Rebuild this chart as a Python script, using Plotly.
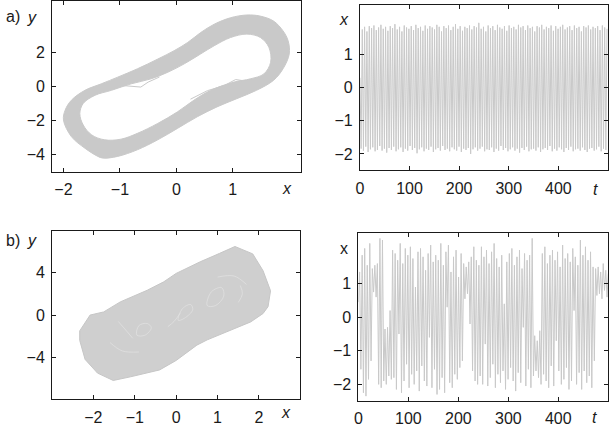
import numpy as np
import plotly.graph_objects as go

# ---- a) phase portrait: inner and outer edge of the band (x, y)
a_outer_x = [-2.00, -1.86, -1.62, -1.39, -1.30, -1.04, -0.69, -0.33, 0.02, 0.37, 0.72, 1.07,
             1.42, 1.72, 1.89, 2.00, 1.98, 1.89, 1.72, 1.48, 1.25, 0.96, 0.67, 0.43, 0.20,
             -0.04, -0.33, -0.69, -1.04, -1.33, -1.62, -1.86, -1.97, -2.00]
a_outer_y = [-1.97, -2.94, -3.62, -4.10, -4.20, -4.10, -3.71, -3.13, -2.46, -1.78, -1.20, -0.72,
             -0.23, 0.35, 1.03, 1.90, 2.67, 3.25, 3.83, 4.12, 4.18, 4.02, 3.64, 3.15, 2.57,
             2.09, 1.60, 1.03, 0.54, 0.15, -0.23, -0.81, -1.39, -1.97]
a_inner_x = [-1.71, -1.65, -1.50, -1.27, -0.98, -0.69, -0.33, 0.02, 0.31, 0.61, 1.02, 1.31,
             1.55, 1.67, 1.64, 1.49, 1.25, 0.96, 0.67, 0.43, 0.14, -0.15, -0.45, -0.80, -1.15,
             -1.44, -1.65, -1.71]
a_inner_y = [-1.59, -2.26, -2.84, -3.13, -3.09, -2.75, -2.17, -1.49, -0.81, -0.23, 0.25, 0.44,
             0.73, 1.41, 2.28, 2.86, 3.06, 2.86, 2.38, 1.90, 1.32, 0.83, 0.44, 0.15, -0.23,
             -0.52, -1.00, -1.59]
# the two small notches on the inside of the band
a_kink1_x = [-0.95, -0.63, -0.50, -0.30]
a_kink1_y = [0.05, -0.04, 0.25, 0.55]
a_kink2_x = [0.25, 0.55, 0.85, 1.05, 1.25]
a_kink2_y = [-0.75, -0.25, 0.05, 0.40, 0.30]

# ---- a) time series: successive maxima and minima of x
a_peaks = [1.76, 1.84, 1.70, 1.86, 1.80, 1.88, 1.74, 1.82, 1.90, 1.78,
           1.84, 1.72, 1.86, 1.80, 1.92, 1.76, 1.84, 1.70, 1.88, 1.82,
           1.78, 1.86, 1.74, 1.90, 1.80, 1.84, 1.72, 1.88, 1.78, 1.86,
           1.82, 1.76, 1.90, 1.84, 1.70, 1.86, 1.80, 1.88, 1.74, 1.84,
           1.92, 1.78, 1.86, 1.72, 1.84, 1.80, 1.88, 1.76, 1.86, 1.82,
           1.96, 1.78, 1.84, 1.70, 1.88, 1.80, 1.86, 1.74, 1.90, 1.82,
           1.78, 1.86, 1.72, 1.88, 1.80, 1.84, 1.76, 1.90, 1.82, 1.86,
           1.74, 1.88, 1.80, 1.84, 1.70, 1.86, 1.82, 1.90, 1.76, 1.84,
           1.80, 1.88, 1.72, 1.86, 1.78, 1.84, 1.90, 1.76, 1.82, 1.86,
           1.74, 1.88, 1.80, 1.84, 1.70, 1.86, 1.82, 1.88, 1.76, 1.84,
           1.80, 1.86, 1.74, 1.88, 1.82, 1.78]
a_troughs = [-1.84, -1.90, -1.78, -1.94, -1.86, -1.80, -1.92, -1.88, -1.76, -1.90,
             -1.84, -1.96, -1.82, -1.88, -1.78, -1.92, -1.86, -1.80, -1.94, -1.84,
             -1.90, -1.76, -1.88, -1.82, -1.98, -1.86, -1.80, -1.92, -1.84, -1.88,
             -1.78, -1.94, -1.86, -1.82, -1.90, -1.76, -1.88, -1.84, -1.92, -1.80,
             -1.86, -1.90, -1.78, -1.94, -1.84, -1.88, -1.82, -2.00, -1.86, -1.80,
             -1.90, -1.84, -1.78, -1.92, -1.86, -1.88, -1.80, -1.94, -1.84, -1.90,
             -1.76, -1.88, -1.82, -1.92, -1.86, -1.80, -1.90, -1.84, -1.96, -1.82,
             -1.88, -1.78, -1.92, -1.86, -1.84, -1.90, -1.80, -1.94, -1.86, -1.82,
             -1.88, -1.76, -1.92, -1.84, -1.90, -1.80, -1.86, -1.94, -1.82, -1.88,
             -1.78, -1.92, -1.86, -1.84, -1.90, -1.80, -1.88, -1.94, -1.84, -1.82,
             -1.90, -1.86, -1.78, -1.92, -1.84, -1.88]
a_t_end = 498

# ---- b) phase portrait: outer envelope of the cloud and the lighter gaps inside it
b_outer_x = [-2.33, -2.20, -1.90, -1.52, -1.10, -0.40, 0.00, 0.50, 0.75, 1.30, 1.80, 2.10,
             2.22, 2.28, 2.10, 1.85, 1.42, 1.05, 0.58, 0.00, -0.30, -0.70, -1.00, -1.35, -1.75,
             -2.08, -2.33, -2.33]
b_outer_y = [-2.40, -4.20, -5.50, -6.20, -5.85, -5.20, -4.30, -2.85, -2.35, -1.45, -0.65, 0.15,
             0.80, 2.30, 4.20, 5.80, 6.50, 5.85, 5.05, 3.95, 3.15, 2.35, 1.85, 1.25, 0.30,
             0.00, -1.50, -2.40]
b_gaps = [
    ([0.05, 0.20, 0.40, 0.35, 0.15, 0.05], [-0.50, -0.30, 0.50, 1.00, 0.60, -0.50]),
    ([-0.20, -0.05, 0.10], [-1.10, -0.60, 0.20]),
    ([-0.95, -0.75, -0.60, -0.70, -0.90, -0.95], [-1.90, -1.90, -1.20, -0.80, -1.00, -1.90]),
    ([0.75, 0.95, 1.15, 1.10, 0.85, 0.75], [0.90, 0.90, 1.80, 2.60, 2.20, 0.90]),
    ([-1.60, -1.30, -0.90], [-2.60, -3.40, -3.50]),
    ([1.00, 1.40, 1.70], [3.60, 3.70, 2.90]),
    ([-1.40, -1.20, -1.05], [-0.60, -1.50, -2.20]),
    ([1.50, 1.60, 1.55], [1.20, 2.00, 2.80]),
]

# ---- b) time series: successive extrema of x
b_extrema = [0.45,
    1.35, -1.55, 1.85, -2.25, 2.05, -2.35, 1.55, -1.85, 2.2, -1.3,
    1.45, 0.75, 1.55, 0.6, 1.6, -2.0, 2.35, -2.1, 2.3,
    -1.9, -0.35, -2.0, -0.3, -1.75, 0.2, -1.85,
    2.0, -1.8, 1.9, -2.15, 1.7, -0.5, 2.2, -2.25, 1.6, -1.9, 2.05, -1.4, 1.85, -2.1,
    2.1, -1.7, 1.75, -2.0, 0.9, -1.6, 1.95, -2.2, 2.05, -1.45, 1.8, -1.9, 1.4, -2.05,
    1.9, -0.6, 2.15, -2.1, 1.65, -1.55,
    1.85, -2.3, 1.7, -2.15, 2.2, -1.8, 1.55, -2.25, 1.95, 0.3, 2.15, -1.95, 1.35, -2.1,
    1.8, -1.7, 2.0, -1.85, 1.2, -1.5, 1.9,
    -1.3, 1.6, 0.55, 1.5, 0.7, 1.65, -0.2, 1.8, -1.6, 2.1, -1.9, 1.7, -2.0, 1.55,
    -1.75, 2.1, -2.0, 1.8, -0.8, 2.0, -2.05, 1.6, -1.8, 1.95, -1.4, 2.2, -2.1, 1.75, -1.7,
    1.5, -1.95, 1.85, -1.6, 0.4, -2.15, 1.65, -1.85, 1.9, -1.5,
    2.05, -1.9, 1.55, -2.2, 1.8, -1.65, 2.0, -1.95, 1.45, -0.3, 1.9, -2.05, 1.7, -1.55,
    1.85, -2.1, 2.35,
    -1.75, -0.55, -1.6, -0.7, -1.8, -0.4, -2.0,
    1.9, -1.7, 2.1, -1.9, 1.6, -2.1, 1.85, -1.45, 2.0, -2.05, 1.7, -0.7, 1.95, -1.6, 1.5,
    -2.0, 2.15, -1.85, 1.75, -1.5, 1.9, -2.15, 1.65, -1.9, 2.05, 0.2, 1.8, -2.0, 1.55,
    -1.65, 2.3,
    -2.15, 1.85, -1.6, 2.1, -1.95, 1.7, -1.75, 1.95, -2.1, 1.5, -1.3,
    1.45, 0.65, 1.5, 0.7, 1.35, 0.55, 1.6, 0.8, 1.4, 0.6, 1.3]
b_t_end = 500

GRAY = "#c9c9c9"
INK = "#1a1a1a"
FONT = "Liberation Sans"

# interleave minima / maxima of a) into one series
a_x = [0.3] + [v for pair in zip(a_troughs, a_peaks) for v in pair]
a_t = np.linspace(0, a_t_end, len(a_x))
b_t = np.linspace(0, b_t_end, len(b_extrema))

fig = go.Figure()

# a) phase portrait: ring between inner and outer edge
fig.add_trace(go.Scatter(x=a_inner_x, y=a_inner_y, mode="lines",
                         line=dict(color=GRAY, width=1, shape="spline"), xaxis="x", yaxis="y"))
fig.add_trace(go.Scatter(x=a_outer_x, y=a_outer_y, mode="lines", fill="tonext", fillcolor=GRAY,
                         line=dict(color=GRAY, width=1, shape="spline"), xaxis="x", yaxis="y"))
for kx, ky in [(a_kink1_x, a_kink1_y), (a_kink2_x, a_kink2_y)]:
    fig.add_trace(go.Scatter(x=kx, y=ky, mode="lines", line=dict(color=GRAY, width=1),
                             xaxis="x", yaxis="y"))

# a) time series
fig.add_trace(go.Scatter(x=a_t, y=a_x, mode="lines", line=dict(color=GRAY, width=1),
                         xaxis="x2", yaxis="y2"))

# b) phase portrait
fig.add_trace(go.Scatter(x=b_outer_x, y=b_outer_y, mode="lines", fill="toself", fillcolor="#cfcfcf",
                         line=dict(color="#c6c6c6", width=1), xaxis="x3", yaxis="y3"))
for sx, sy in b_gaps:
    fig.add_trace(go.Scatter(x=sx, y=sy, mode="lines", line=dict(color="#e2e2e2", width=0.7, shape="spline"),
                             xaxis="x3", yaxis="y3"))

# b) time series
fig.add_trace(go.Scatter(x=b_t, y=b_extrema, mode="lines", line=dict(color=GRAY, width=1),
                         xaxis="x4", yaxis="y4"))

W, H = 609, 427


def px_x(p):
    return p / W


def px_y(p):
    return 1 - p / H


axis_style = dict(showline=True, mirror="ticks", linecolor=INK, linewidth=1, ticks="inside", ticklen=4,
                  tickcolor=INK, showgrid=False, zeroline=False, ticklabelstandoff=3,
                  tickfont=dict(family=FONT, size=16, color=INK))

fig.update_layout(
    width=W, height=H, showlegend=False,
    margin=dict(l=0, r=0, t=0, b=0),
    paper_bgcolor="white", plot_bgcolor="white",
    xaxis=dict(axis_style, domain=[px_x(48.5), px_x(298.5)], range=[-2.2, 2.2],
               tickvals=[-2, -1, 0, 1], anchor="y"),
    yaxis=dict(axis_style, domain=[px_y(173), px_y(1)], range=[-5, 5],
               tickvals=[-4, -2, 0, 2], anchor="x"),
    xaxis2=dict(axis_style, domain=[px_x(358.3), px_x(608)], range=[0, 500],
                tickvals=[0, 100, 200, 300, 400], anchor="y2"),
    yaxis2=dict(axis_style, domain=[px_y(171.7), px_y(5)], range=[-2.5, 2.5],
                tickvals=[-2, -1, 0, 1], anchor="x2"),
    xaxis3=dict(axis_style, domain=[px_x(48.3), px_x(298.3)], range=[-3, 3],
                tickvals=[-2, -1, 0, 1, 2], anchor="y3"),
    yaxis3=dict(axis_style, domain=[px_y(402.3), px_y(232.3)], range=[-8, 8],
                tickvals=[-4, 0, 4], anchor="x3"),
    xaxis4=dict(axis_style, domain=[px_x(356.7), px_x(608.3)], range=[0, 500],
                tickvals=[0, 100, 200, 300, 400], anchor="y4"),
    yaxis4=dict(axis_style, domain=[px_y(404), px_y(235)], range=[-2.5, 2.5],
                tickvals=[-2, -1, 0, 1], anchor="x4"),
)

labels = [
    ("a)", px_x(0), px_y(17), "left"),
    ("<i>y</i>", px_x(28.5), px_y(18), "center"),
    ("<i>x</i>", px_x(285), px_y(190), "center"),
    ("<i>x</i>", px_x(342.5), px_y(20), "center"),
    ("<i>t</i>", px_x(595.5), px_y(191), "center"),
    ("b)", px_x(0), px_y(242), "left"),
    ("<i>y</i>", px_x(28.5), px_y(242), "center"),
    ("<i>x</i>", px_x(283.5), px_y(415), "center"),
    ("x", px_x(342.5), px_y(250), "center"),
    ("<i>t</i>", px_x(594.5), px_y(420), "center"),
]
for text, lx, ly, anchor in labels:
    fig.add_annotation(text=text, x=lx, y=ly, xref="paper", yref="paper", showarrow=False,
                       xanchor=anchor, yanchor="middle", font=dict(family=FONT, size=16, color=INK))

# the page body has a default 8px margin; drop it so the figure sits at the window corner
fig.write_html("out.html", config={"displayModeBar": False},
               post_script="document.body.style.margin='0';")
